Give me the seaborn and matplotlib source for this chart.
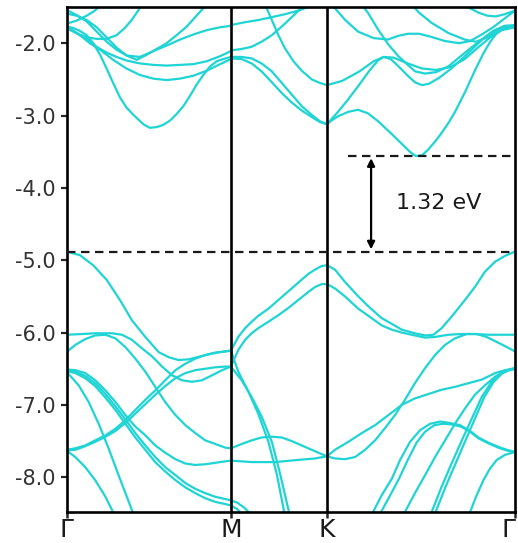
import matplotlib
matplotlib.use("Agg")
import matplotlib.pyplot as plt
import pandas as pd
import seaborn as sns

# ---------------- labels / reference levels ----------------
kpath_labels = ["Γ", "M", "K", "Γ"]
kpath_pos = [0.0, 0.578, 0.916, 1.577]
ytick_vals = [-2.0, -3.0, -4.0, -5.0, -6.0, -7.0, -8.0]
ytick_labels = ["-2.0", "-3.0", "-4.0", "-5.0", "-6.0", "-7.0", "-8.0"]
vbm = -4.88
cbm = -3.56
gap_label = "1.32 eV"

# ---------------- valence bands, Gamma -> M ----------------
gm_k = [0.000, 0.031, 0.066, 0.101, 0.137, 0.172, 0.207, 0.242, 0.277,
        0.312, 0.347, 0.383, 0.418, 0.453, 0.488, 0.523, 0.558, 0.578]
gm_v_c = [-6.27, -6.17, -6.09, -6.04, -6.03, -6.08, -6.20, -6.36, -6.54,
          -6.75, -6.96, -7.14, -7.28, -7.39, -7.49, -7.54, -7.59, -7.60]
gm_v_r1 = [-7.62, -7.60, -7.56, -7.49, -7.42, -7.33, -7.21, -7.07, -6.93,
           -6.80, -6.66, -6.52, -6.43, -6.36, -6.31, -6.28, -6.26, -6.25]
gm_v_r2 = [-7.63, -7.62, -7.57, -7.51, -7.44, -7.36, -7.25, -7.12, -6.99,
           -6.86, -6.74, -6.63, -6.56, -6.52, -6.50, -6.48, -6.47, -6.47]
gm_v_d1 = [-6.51, -6.52, -6.56, -6.66, -6.80, -6.96, -7.14, -7.30, -7.42,
           -7.56, -7.66, -7.75, -7.81, -7.83, -7.82, -7.80, -7.78, -7.77]
gm_v_d2 = [-6.52, -6.54, -6.60, -6.70, -6.85, -7.02, -7.20, -7.39, -7.56,
           -7.72, -7.86, -7.97, -8.08, -8.16, -8.22, -8.27, -8.30, -8.32]
gm_v_d3 = [-6.53, -6.56, -6.63, -6.74, -6.90, -7.07, -7.26, -7.45, -7.62,
           -7.79, -7.92, -8.04, -8.14, -8.22, -8.29, -8.34, -8.37, -8.39]
gm_v_top = [(0.000, -4.88), (0.047, -4.93), (0.094, -5.07), (0.141, -5.27),
            (0.188, -5.55), (0.230, -5.83), (0.277, -6.06), (0.324, -6.27),
            (0.359, -6.34), (0.394, -6.38), (0.430, -6.37), (0.470, -6.33),
            (0.520, -6.28), (0.578, -6.25)]
gm_v_flat = [(0.000, -6.03), (0.055, -6.02), (0.101, -6.01), (0.160, -6.01),
             (0.195, -6.03), (0.230, -6.10), (0.266, -6.22), (0.301, -6.33),
             (0.336, -6.47), (0.371, -6.59), (0.406, -6.66), (0.441, -6.68),
             (0.476, -6.66), (0.512, -6.59), (0.547, -6.52), (0.578, -6.47)]
gm_v_s1 = [(0.000, -6.54), (0.043, -6.73), (0.078, -6.96), (0.113, -7.26),
           (0.148, -7.60), (0.183, -7.97), (0.219, -8.34), (0.248, -8.64)]
gm_v_s2 = [(0.000, -7.63), (0.031, -7.72), (0.066, -7.86), (0.101, -8.04),
           (0.137, -8.27), (0.166, -8.50), (0.178, -8.64)]

# ---------------- valence bands, M -> K ----------------
mk_k = [0.578, 0.604, 0.628, 0.651, 0.674, 0.710, 0.745, 0.780, 0.815,
        0.850, 0.874, 0.897, 0.916]
mk_v1 = [-6.25, -6.06, -5.94, -5.85, -5.77, -5.67, -5.55, -5.43, -5.31,
         -5.19, -5.13, -5.08, -5.07]
mk_v2 = [-6.47, -6.24, -6.10, -6.01, -5.94, -5.85, -5.76, -5.66, -5.55,
         -5.44, -5.37, -5.33, -5.33]
mk_v3 = [(0.578, -6.25), (0.604, -6.54), (0.640, -6.82), (0.674, -7.12),
         (0.710, -7.51), (0.739, -7.95), (0.762, -8.41), (0.768, -8.55)]
mk_v4 = [(0.578, -6.47), (0.616, -6.66), (0.651, -6.89), (0.686, -7.16),
         (0.722, -7.51), (0.751, -7.95), (0.775, -8.36), (0.787, -8.55)]
mk_v5 = [(0.578, -7.60), (0.616, -7.54), (0.651, -7.49), (0.686, -7.45),
         (0.722, -7.44), (0.757, -7.45), (0.792, -7.50), (0.827, -7.56),
         (0.862, -7.62), (0.897, -7.68), (0.916, -7.71)]
mk_v6 = [(0.578, -7.77), (0.651, -7.79), (0.733, -7.79), (0.815, -7.76),
         (0.874, -7.74), (0.916, -7.71)]
mk_v7 = [(0.578, -8.32), (0.600, -8.35), (0.625, -8.42), (0.645, -8.50),
         (0.660, -8.58)]
mk_v8 = [(0.578, -8.39), (0.600, -8.44), (0.620, -8.52), (0.635, -8.60)]

# ---------------- valence bands, K -> Gamma ----------------
kg_v1 = [(0.916, -5.07), (0.944, -5.13), (0.979, -5.30), (1.026, -5.50),
         (1.062, -5.64), (1.108, -5.80), (1.144, -5.88), (1.179, -5.96),
         (1.225, -6.01), (1.261, -6.04), (1.290, -6.03), (1.319, -5.94),
         (1.354, -5.78), (1.401, -5.55), (1.436, -5.37), (1.471, -5.16),
         (1.507, -5.02), (1.542, -4.94), (1.577, -4.88)]
kg_v2 = [(0.916, -5.33), (0.944, -5.39), (0.979, -5.50), (1.026, -5.67),
         (1.062, -5.77), (1.108, -5.90), (1.144, -5.96), (1.179, -6.00),
         (1.225, -6.04), (1.261, -6.07), (1.296, -6.06), (1.343, -6.03),
         (1.390, -6.02), (1.436, -6.02), (1.483, -6.03), (1.530, -6.03),
         (1.577, -6.03)]
kg_v3 = [(0.916, -7.71), (0.944, -7.74), (0.979, -7.75), (1.015, -7.72),
         (1.050, -7.62), (1.085, -7.49), (1.120, -7.32), (1.155, -7.14),
         (1.190, -6.93), (1.225, -6.70), (1.261, -6.49), (1.296, -6.31),
         (1.331, -6.17), (1.366, -6.08), (1.407, -6.02), (1.442, -6.02),
         (1.477, -6.06), (1.518, -6.14), (1.548, -6.20), (1.577, -6.26)]
kg_v4 = [(0.916, -7.71), (0.944, -7.62), (0.991, -7.51), (1.038, -7.39),
         (1.085, -7.28), (1.132, -7.14), (1.179, -7.00), (1.225, -6.91),
         (1.272, -6.85), (1.319, -6.79), (1.366, -6.75), (1.413, -6.70),
         (1.460, -6.65), (1.507, -6.56), (1.542, -6.52), (1.577, -6.49)]
kg_v5 = [(1.272, -8.59), (1.284, -8.48), (1.319, -8.13), (1.354, -7.81),
         (1.390, -7.49), (1.425, -7.19), (1.460, -6.89), (1.495, -6.68),
         (1.530, -6.56), (1.554, -6.52), (1.577, -6.49)]
kg_v6 = [(1.286, -8.59), (1.298, -8.48), (1.333, -8.13), (1.368, -7.81),
         (1.403, -7.49), (1.436, -7.19), (1.469, -6.89), (1.502, -6.68),
         (1.533, -6.56), (1.556, -6.52), (1.577, -6.50)]
kg_v7 = [(1.179, -8.59), (1.190, -8.48), (1.225, -8.22), (1.261, -7.97),
         (1.296, -7.72), (1.331, -7.49), (1.366, -7.26), (1.401, -7.05),
         (1.436, -6.86), (1.471, -6.73), (1.507, -6.61), (1.542, -6.53),
         (1.577, -6.50)]
kg_v8 = [(1.067, -8.59), (1.078, -8.48), (1.108, -8.25), (1.144, -8.02),
         (1.173, -7.76), (1.208, -7.51), (1.243, -7.35), (1.279, -7.26),
         (1.314, -7.23), (1.349, -7.25), (1.384, -7.28), (1.419, -7.36),
         (1.448, -7.45), (1.483, -7.52), (1.518, -7.58), (1.548, -7.62),
         (1.577, -7.65)]
kg_v9 = [(1.094, -8.59), (1.106, -8.48), (1.138, -8.25), (1.169, -8.02),
         (1.200, -7.76), (1.231, -7.52), (1.261, -7.37), (1.293, -7.28),
         (1.325, -7.26), (1.354, -7.27), (1.387, -7.30), (1.419, -7.37),
         (1.448, -7.46), (1.483, -7.53), (1.518, -7.59), (1.548, -7.63),
         (1.577, -7.65)]
kg_v10 = [(1.407, -8.59), (1.419, -8.48), (1.442, -8.25), (1.466, -8.04),
          (1.489, -7.88), (1.513, -7.76), (1.542, -7.69), (1.577, -7.65)]

# ---------------- conduction bands, Gamma -> M ----------------
gm_c1 = [(0.000, -1.77), (0.024, -1.79), (0.047, -1.83), (0.071, -1.89),
         (0.094, -2.00), (0.118, -2.16), (0.141, -2.35), (0.164, -2.55),
         (0.188, -2.75), (0.211, -2.89), (0.235, -2.99), (0.270, -3.12),
         (0.293, -3.17), (0.317, -3.16), (0.340, -3.13), (0.364, -3.07),
         (0.387, -2.98), (0.411, -2.87), (0.434, -2.73), (0.458, -2.57),
         (0.481, -2.44), (0.505, -2.32), (0.528, -2.25), (0.551, -2.22),
         (0.578, -2.19)]
gm_c2 = [(0.000, -1.76), (0.047, -1.89), (0.082, -2.00), (0.118, -2.09),
         (0.164, -2.23), (0.211, -2.35), (0.258, -2.44), (0.305, -2.49),
         (0.352, -2.51), (0.399, -2.49), (0.446, -2.45), (0.493, -2.38),
         (0.540, -2.29), (0.578, -2.22)]
gm_c3 = [(0.000, -1.79), (0.035, -1.86), (0.071, -1.94), (0.106, -2.05),
         (0.141, -2.13), (0.176, -2.19), (0.211, -2.24), (0.258, -2.28),
         (0.305, -2.30), (0.352, -2.31), (0.399, -2.30), (0.446, -2.29),
         (0.493, -2.25), (0.540, -2.18), (0.578, -2.11)]
gm_c4 = [(0.000, -1.54), (0.035, -1.61), (0.071, -1.70), (0.106, -1.84),
         (0.141, -1.98), (0.176, -2.09), (0.211, -2.17), (0.258, -2.19),
         (0.317, -2.09), (0.360, -2.02), (0.399, -1.95), (0.446, -1.88),
         (0.493, -1.82), (0.540, -1.78), (0.578, -1.76)]
gm_c5 = [(0.000, -1.59), (0.035, -1.62), (0.071, -1.68), (0.106, -1.78),
         (0.141, -1.92), (0.176, -2.06), (0.211, -2.17), (0.247, -2.23),
         (0.282, -2.16), (0.317, -2.08), (0.352, -2.00), (0.387, -1.89),
         (0.423, -1.77), (0.455, -1.63), (0.480, -1.52), (0.500, -1.44)]
gm_c6 = [(0.000, -1.73), (0.035, -1.69), (0.071, -1.62), (0.100, -1.55),
         (0.118, -1.48), (0.130, -1.44)]
gm_c7 = [(0.000, -1.79), (0.035, -1.86), (0.071, -1.92), (0.106, -1.94),
         (0.141, -1.94), (0.176, -1.89), (0.205, -1.79), (0.229, -1.68),
         (0.252, -1.55), (0.264, -1.47), (0.270, -1.42)]

# ---------------- conduction bands, M -> K ----------------
mk_c1 = [(0.578, -1.75), (0.628, -1.71), (0.675, -1.68), (0.722, -1.64),
         (0.768, -1.60), (0.815, -1.55), (0.850, -1.50), (0.874, -1.47),
         (0.890, -1.44)]
mk_c2 = [(0.578, -2.10), (0.616, -2.08), (0.651, -2.05), (0.686, -1.98),
         (0.722, -1.89), (0.757, -1.77), (0.792, -1.64), (0.821, -1.53),
         (0.839, -1.46)]
mk_c3 = [(0.578, -2.19), (0.616, -2.19), (0.651, -2.21), (0.686, -2.28),
         (0.722, -2.39), (0.757, -2.55), (0.792, -2.71), (0.827, -2.87),
         (0.862, -2.99), (0.891, -3.08), (0.916, -3.12)]
mk_c4 = [(0.578, -2.21), (0.616, -2.22), (0.651, -2.28), (0.686, -2.39),
         (0.722, -2.54), (0.757, -2.69), (0.792, -2.82), (0.827, -2.93),
         (0.862, -3.02), (0.891, -3.09), (0.916, -3.12)]
mk_c5 = [(0.686, -1.40), (0.704, -1.52), (0.722, -1.68), (0.745, -1.89),
         (0.768, -2.07), (0.798, -2.25), (0.827, -2.38), (0.862, -2.50),
         (0.891, -2.55), (0.916, -2.58)]

# ---------------- conduction bands, K -> Gamma ----------------
kg_c1 = [(0.916, -3.12), (0.935, -3.06), (0.955, -3.01), (0.990, -2.95),
         (1.025, -2.92), (1.060, -2.97), (1.096, -3.08), (1.142, -3.25),
         (1.189, -3.43), (1.210, -3.51), (1.228, -3.56), (1.250, -3.55),
         (1.272, -3.47), (1.300, -3.34), (1.319, -3.24), (1.345, -3.09),
         (1.366, -2.95), (1.402, -2.67), (1.437, -2.37), (1.466, -2.14),
         (1.490, -1.98), (1.513, -1.86), (1.542, -1.79), (1.577, -1.77)]
kg_c2 = [(0.916, -3.12), (0.950, -2.97), (0.990, -2.78), (1.030, -2.57),
         (1.065, -2.38), (1.095, -2.24), (1.115, -2.19), (1.140, -2.22),
         (1.170, -2.33), (1.200, -2.45), (1.225, -2.54), (1.250, -2.58),
         (1.275, -2.56), (1.310, -2.48), (1.350, -2.36), (1.390, -2.22),
         (1.430, -2.07), (1.470, -1.92), (1.510, -1.82), (1.545, -1.77),
         (1.577, -1.76)]
kg_c3 = [(0.916, -2.58), (0.970, -2.52), (1.030, -2.39), (1.080, -2.25),
         (1.115, -2.19), (1.150, -2.20), (1.200, -2.28), (1.250, -2.35),
         (1.300, -2.37), (1.350, -2.33), (1.400, -2.22), (1.450, -2.05),
         (1.490, -1.92), (1.530, -1.82), (1.577, -1.78)]
kg_c4 = [(0.925, -1.44), (0.940, -1.50), (0.980, -1.68), (1.025, -1.84),
         (1.080, -1.93), (1.130, -1.95), (1.165, -1.90), (1.200, -1.87),
         (1.240, -1.87), (1.280, -1.91), (1.330, -1.97), (1.380, -2.00),
         (1.420, -1.97), (1.460, -1.88), (1.500, -1.78), (1.540, -1.66),
         (1.577, -1.55)]
kg_c5 = [(1.035, -1.45), (1.060, -1.58), (1.097, -1.82), (1.132, -2.02),
         (1.167, -2.18), (1.200, -2.30), (1.226, -2.39), (1.260, -2.42),
         (1.300, -2.40), (1.343, -2.32), (1.380, -2.20), (1.420, -2.07),
         (1.460, -1.95), (1.500, -1.83), (1.540, -1.76), (1.577, -1.75)]
kg_c6 = [(1.210, -1.45), (1.240, -1.58), (1.284, -1.72), (1.343, -1.86),
         (1.400, -1.95), (1.440, -1.98), (1.480, -1.92), (1.510, -1.84),
         (1.540, -1.79), (1.577, -1.77)]
kg_c7 = [(1.390, -1.45), (1.420, -1.52), (1.450, -1.58), (1.480, -1.62),
         (1.510, -1.63), (1.540, -1.60), (1.577, -1.55)]

# ---------------- assemble long table for seaborn ----------------
band_sets = {
    "gm_v_c": list(zip(gm_k, gm_v_c)), "gm_v_r1": list(zip(gm_k, gm_v_r1)),
    "gm_v_r2": list(zip(gm_k, gm_v_r2)), "gm_v_d1": list(zip(gm_k, gm_v_d1)),
    "gm_v_d2": list(zip(gm_k, gm_v_d2)), "gm_v_d3": list(zip(gm_k, gm_v_d3)),
    "gm_v_top": gm_v_top, "gm_v_flat": gm_v_flat, "gm_v_s1": gm_v_s1,
    "gm_v_s2": gm_v_s2,
    "mk_v1": list(zip(mk_k, mk_v1)), "mk_v2": list(zip(mk_k, mk_v2)),
    "mk_v3": mk_v3, "mk_v4": mk_v4, "mk_v5": mk_v5, "mk_v6": mk_v6,
    "mk_v7": mk_v7, "mk_v8": mk_v8,
    "kg_v1": kg_v1, "kg_v2": kg_v2, "kg_v3": kg_v3, "kg_v4": kg_v4,
    "kg_v5": kg_v5, "kg_v6": kg_v6, "kg_v7": kg_v7, "kg_v8": kg_v8,
    "kg_v9": kg_v9, "kg_v10": kg_v10,
    "gm_c1": gm_c1, "gm_c2": gm_c2, "gm_c3": gm_c3, "gm_c4": gm_c4,
    "gm_c5": gm_c5, "gm_c6": gm_c6, "gm_c7": gm_c7,
    "mk_c1": mk_c1, "mk_c2": mk_c2, "mk_c3": mk_c3, "mk_c4": mk_c4,
    "mk_c5": mk_c5,
    "kg_c1": kg_c1, "kg_c2": kg_c2, "kg_c3": kg_c3, "kg_c4": kg_c4,
    "kg_c5": kg_c5, "kg_c6": kg_c6, "kg_c7": kg_c7,
}
rows = []
for name, pts in band_sets.items():
    for k, e in pts:
        rows.append((name, k, e))
df = pd.DataFrame(rows, columns=["band", "k", "E"])

# ---------------- figure ----------------
sns.set_style("ticks")
plt.rcParams["font.family"] = ["DejaVu Sans"]
plt.rcParams["axes.unicode_minus"] = False

BAND_COLOR = "#1fd4d4"
W, H = 518, 543
fig = plt.figure(figsize=(W / 100, H / 100), dpi=100)
ax = fig.add_axes([66.5 / W, 1 - 512 / H, (515 - 66.5) / W, (512 - 7) / H])

sns.lineplot(data=df, x="k", y="E", units="band", estimator=None, sort=False,
             color=BAND_COLOR, linewidth=1.6, ax=ax, legend=False, zorder=2)

for kp in kpath_pos[1:-1]:
    ax.axvline(kp, color="black", lw=1.9, zorder=3)

ax.set_xlim(kpath_pos[0], kpath_pos[-1])
ax.set_ylim(-8.48, -1.50)

# band-edge guides
ax.plot([kpath_pos[0], kpath_pos[-1]], [vbm, vbm], color="#1a1a1a",
        lw=1.6, ls=(0, (3.8, 2.5)), zorder=4)
ax.plot([0.99, kpath_pos[-1]], [cbm, cbm], color="#1a1a1a",
        lw=1.6, ls=(0, (3.8, 2.5)), zorder=4)
ax.annotate("", xy=(1.071, cbm - 0.03), xytext=(1.071, vbm + 0.03),
            arrowprops=dict(arrowstyle="<|-|>", color="black", lw=1.6,
                            mutation_scale=11, shrinkA=0, shrinkB=0),
            zorder=5)
ax.text(1.159, -4.21, gap_label, fontsize=16, color="#1a1a1a",
        ha="left", va="center")

ax.set_xticks(kpath_pos)
ax.set_xticklabels(kpath_labels, fontsize=18, color="#1a1a1a")
ax.get_xticklabels()[-1].set_horizontalalignment("right")
ax.get_xticklabels()[-1].set_x(kpath_pos[-1] + 0.01)
ax.set_yticks(ytick_vals)
ax.set_yticklabels(ytick_labels, fontsize=15, color="#333333")
ax.tick_params(axis="x", direction="out", length=4, width=1.8, pad=0.5)
ax.tick_params(axis="y", direction="out", length=4, width=1.6, pad=4)
ax.set_xlabel("")
ax.set_ylabel("")
for sp in ax.spines.values():
    sp.set_visible(True)
    sp.set_color("black")
    sp.set_linewidth(1.9)

fig.savefig("out.png", dpi=100)
